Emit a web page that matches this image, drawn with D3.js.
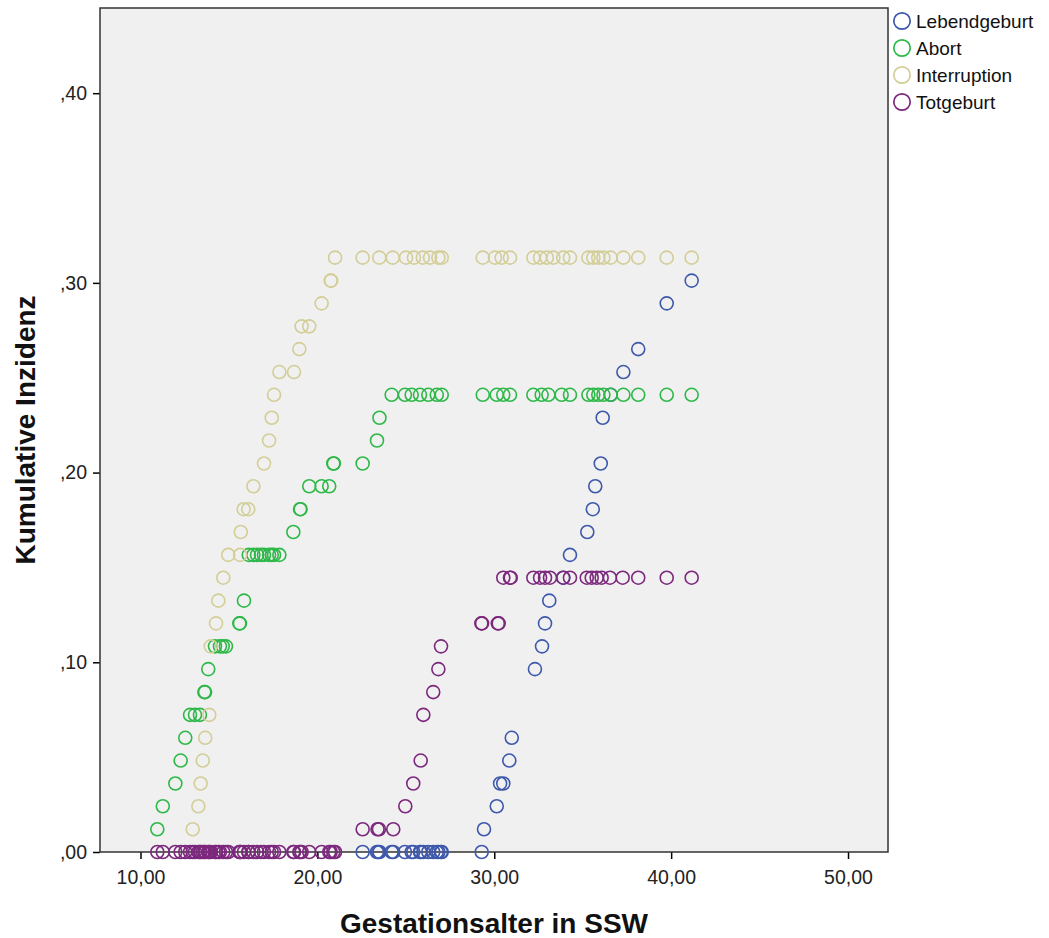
<!DOCTYPE html>
<html>
<head>
<meta charset="utf-8">
<script src="https://d3js.org/d3.v7.min.js"></script>
<style>
  body { margin: 0; background: #fff; }
  svg { display: block; font-family: "Liberation Sans", Arial, sans-serif; }
</style>
</head>
<body>
<svg id="chart" width="1049" height="938"></svg>
<script>
// series names and colours (legend order = draw order)
const seriesNames = ["Lebendgeburt", "Abort", "Interruption", "Totgeburt"];
const seriesColors = ["#3e58ac", "#2eb848", "#d3ce97", "#7c287d"];

const xTicks = [10, 20, 30, 40, 50];
const yTicks = [0, 0.1, 0.2, 0.3, 0.4];

// [Gestationsalter, kumulative Inzidenz]
const lebendgeburt = [
  [22.56, 0], [23.37, 0], [23.44, 0], [23.51, 0], [24.20, 0], [24.29, 0], [24.95, 0],
  [25.33, 0], [25.42, 0], [25.80, 0], [25.84, 0], [25.99, 0], [26.27, 0], [26.55, 0],
  [26.75, 0], [26.84, 0], [26.99, 0], [27.03, 0], [29.29, 0],
  [29.42, .0120], [30.14, .0241], [30.33, .0361], [30.51, .0361], [30.85, .0482],
  [30.99, .0602], [32.30, .0964], [32.70, .1084], [32.87, .1205], [33.11, .1325],
  [33.90, .1446], [34.28, .1566], [35.26, .1687], [35.57, .1807], [35.71, .1928],
  [36.02, .2048], [36.13, .2289], [36.58, .2410], [37.30, .2530], [38.14, .2651],
  [39.75, .2892], [41.16, .3012]
];

const abort = [
  [10.95, .0120], [11.26, .0241], [11.97, .0361], [12.27, .0482], [12.53, .0602],
  [12.80, .0723], [13.08, .0723], [13.36, .0723], [13.61, .0843], [13.65, .0843],
  [13.83, .0964], [14.21, .1084], [14.49, .1084], [14.65, .1084], [14.83, .1084],
  [15.59, .1205], [15.62, .1205], [15.85, .1325],
  [16.12, .1566], [16.38, .1566], [16.59, .1566], [16.81, .1566], [16.98, .1566],
  [17.27, .1566], [17.42, .1566], [17.55, .1566], [17.85, .1566],
  [18.64, .1687], [19.02, .1807], [19.05, .1807], [19.54, .1928], [20.24, .1928],
  [20.67, .1928], [20.90, .2048], [20.93, .2048], [22.56, .2048], [23.37, .2169],
  [23.51, .2289],
  [24.20, .2410], [24.95, .2410], [25.33, .2410], [25.80, .2410], [26.27, .2410],
  [26.75, .2410], [27.03, .2410], [29.35, .2410], [30.14, .2410], [30.51, .2410],
  [30.89, .2410], [32.21, .2410], [32.68, .2410], [33.06, .2410], [33.81, .2410],
  [34.28, .2410], [35.32, .2410], [35.60, .2410], [35.88, .2410], [36.17, .2410],
  [36.58, .2410], [37.30, .2410], [38.14, .2410], [39.75, .2410], [41.16, .2410]
];

const interruption = [
  [12.95, .0120], [13.27, .0241], [13.40, .0361], [13.52, .0482], [13.66, .0602],
  [13.89, .0723], [13.97, .1084], [14.27, .1205], [14.40, .1325], [14.68, .1446],
  [14.96, .1566], [15.63, .1566], [15.67, .1687], [15.83, .1807], [16.09, .1807],
  [16.38, .1928], [16.98, .2048], [17.27, .2169], [17.42, .2289], [17.55, .2410],
  [17.85, .2530], [18.68, .2530], [18.98, .2651], [19.11, .2771], [19.54, .2771],
  [20.24, .2892], [20.75, .3012], [20.78, .3012],
  [21.00, .3133], [22.56, .3133], [23.50, .3133], [24.26, .3133], [25.01, .3133],
  [25.46, .3133], [25.96, .3133], [26.37, .3133], [26.84, .3133], [27.03, .3133],
  [29.35, .3133], [30.04, .3133], [30.42, .3133], [30.89, .3133], [32.21, .3133],
  [32.59, .3133], [32.97, .3133], [33.34, .3133], [33.90, .3133], [34.28, .3133],
  [35.32, .3133], [35.60, .3133], [35.88, .3133], [36.17, .3133], [36.58, .3133],
  [37.30, .3133], [38.14, .3133], [39.75, .3133], [41.16, .3133]
];

const totgeburt = [
  [10.95, 0], [11.26, 0], [11.97, 0], [12.27, 0], [12.53, 0], [12.80, 0], [12.95, 0],
  [13.08, 0], [13.27, 0], [13.36, 0], [13.40, 0], [13.52, 0], [13.61, 0], [13.66, 0],
  [13.83, 0], [13.89, 0], [13.97, 0], [14.21, 0], [14.27, 0], [14.40, 0], [14.49, 0],
  [14.68, 0], [14.83, 0], [14.96, 0], [15.59, 0], [15.63, 0], [15.67, 0], [15.85, 0],
  [16.09, 0], [16.12, 0], [16.38, 0], [16.59, 0], [16.81, 0], [16.98, 0], [17.27, 0],
  [17.42, 0], [17.55, 0], [17.85, 0], [18.64, 0], [18.68, 0], [18.98, 0], [19.02, 0],
  [19.11, 0], [19.54, 0], [20.24, 0], [20.67, 0], [20.75, 0], [20.90, 0], [21.00, 0],
  [22.56, .0120], [23.40, .0120], [23.48, .0120], [24.29, .0120], [24.97, .0241],
  [25.42, .0361], [25.84, .0482], [25.99, .0723], [26.55, .0843], [26.84, .0964],
  [26.99, .1084], [29.27, .1205], [29.31, .1205], [30.20, .1205], [30.25, .1205],
  [30.51, .1446], [30.89, .1446], [30.93, .1446], [32.21, .1446], [32.59, .1446],
  [32.87, .1446], [33.15, .1446], [33.90, .1446], [34.28, .1446], [35.23, .1446],
  [35.51, .1446], [35.79, .1446], [36.07, .1446], [36.54, .1446], [37.26, .1446],
  [38.14, .1446], [39.75, .1446], [41.16, .1446]
];

const seriesData = [lebendgeburt, abort, interruption, totgeburt];

const svg = d3.select("#chart");
const plot = { left: 100, top: 8, right: 888, bottom: 852 };

const x = d3.scaleLinear().domain([7.71, 52.26]).range([plot.left, plot.right]);
const y = d3.scaleLinear().domain([0, 0.4449]).range([plot.bottom, plot.top]);

const fmtX = d => d3.format(".2f")(d).replace(".", ",");
const fmtY = d => d3.format(".2f")(d).replace(/^0\./, ",");

// plot background
svg.append("rect")
  .attr("x", plot.left)
  .attr("y", plot.top)
  .attr("width", plot.right - plot.left)
  .attr("height", plot.bottom - plot.top)
  .attr("fill", "#f0f0f0");

// axes
const xAxis = svg.append("g")
  .attr("transform", `translate(0,${plot.bottom})`)
  .call(d3.axisBottom(x).tickValues(xTicks).tickFormat(fmtX).tickSize(7).tickSizeOuter(0));
const yAxis = svg.append("g")
  .attr("transform", `translate(${plot.left},0)`)
  .call(d3.axisLeft(y).tickValues(yTicks).tickFormat(fmtY).tickSize(7).tickSizeOuter(0));

[xAxis, yAxis].forEach(g => {
  g.select(".domain").remove();
  g.selectAll(".tick line").attr("stroke", "#000").attr("stroke-width", 1.5);
  g.selectAll(".tick text")
    .attr("fill", "#222")
    .style("font-family", "'Liberation Sans', Arial, sans-serif")
    .style("font-size", "19.5px");
});
xAxis.selectAll(".tick text").attr("y", 13).attr("dy", "0.95em");
yAxis.selectAll(".tick text").attr("x", -13);

// frame
svg.append("rect")
  .attr("x", plot.left)
  .attr("y", plot.top)
  .attr("width", plot.right - plot.left)
  .attr("height", plot.bottom - plot.top)
  .attr("fill", "none")
  .attr("stroke", "#333")
  .attr("stroke-width", 1.5);

// points
seriesData.forEach((data, i) => {
  svg.append("g")
    .selectAll("circle")
    .data(data)
    .enter().append("circle")
      .attr("cx", d => x(d[0]))
      .attr("cy", d => y(d[1]))
      .attr("r", 6.5)
      .attr("fill", "none")
      .attr("stroke", seriesColors[i])
      .attr("stroke-width", 1.6);
});

// axis titles
svg.append("text")
  .attr("x", (plot.left + plot.right) / 2)
  .attr("y", 933)
  .attr("text-anchor", "middle")
  .style("font-size", "28px")
  .style("font-weight", "bold")
  .attr("fill", "#111")
  .text("Gestationsalter in SSW");

svg.append("text")
  .attr("transform", `translate(35,${(plot.top + plot.bottom) / 2}) rotate(-90)`)
  .attr("text-anchor", "middle")
  .style("font-size", "28px")
  .style("font-weight", "bold")
  .attr("fill", "#111")
  .text("Kumulative Inzidenz");

// legend
const legend = svg.append("g").attr("transform", "translate(902,21)");
seriesNames.forEach((name, i) => {
  const row = legend.append("g").attr("transform", `translate(0,${i * 27})`);
  row.append("circle")
    .attr("r", 8.2)
    .attr("fill", "none")
    .attr("stroke", seriesColors[i])
    .attr("stroke-width", 1.7);
  row.append("text")
    .attr("x", 14)
    .attr("dy", "0.36em")
    .style("font-size", "19px")
    .attr("fill", "#111")
    .text(name);
});
</script>
</body>
</html>
